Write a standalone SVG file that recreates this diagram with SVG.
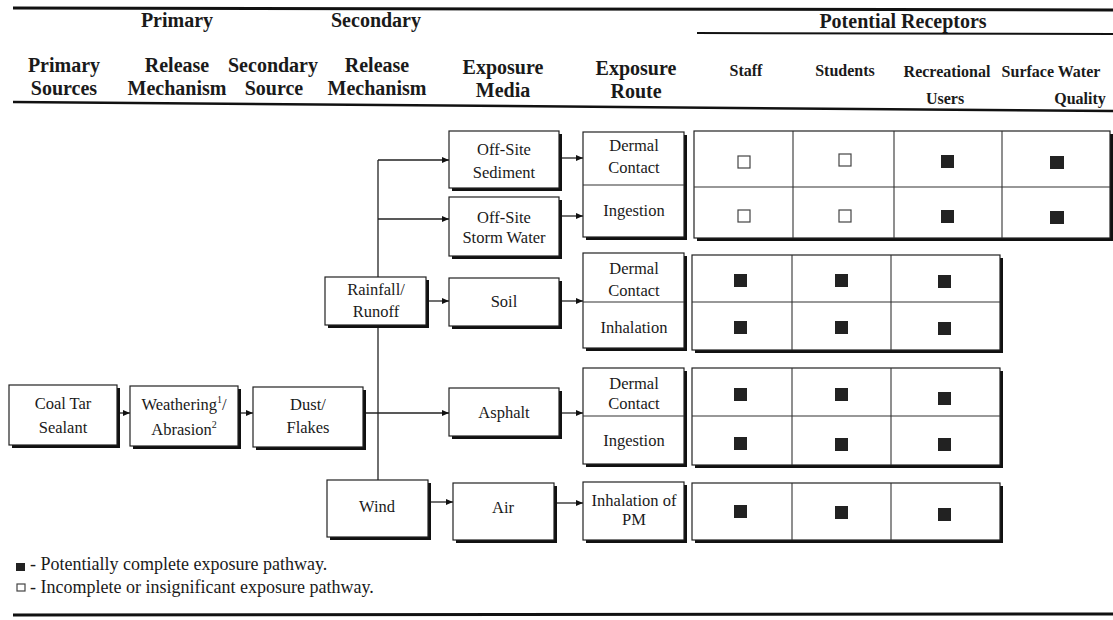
<svg xmlns="http://www.w3.org/2000/svg" width="1113" height="620" viewBox="0 0 1113 620">
<style>
text{font-family:"Liberation Serif","Times New Roman",serif;fill:#1a1a1a;text-anchor:middle}
.h{font-size:20px;font-weight:bold}
.hr{font-size:16px;font-weight:bold}
.t{font-size:16.5px}
.lg{font-size:18px;text-anchor:start}
.box{fill:#fff;stroke:#222;stroke-width:1.2}
.sh{fill:#111}
.rule{stroke:#111;fill:none}
.c{stroke:#222;stroke-width:1.3;fill:none}
.ln{stroke:#333;stroke-width:1.1;fill:none}
.f{fill:#222}
.o{fill:#fff;stroke:#444;stroke-width:1.2}
</style>
<defs>
<marker id="ar" markerWidth="8" markerHeight="6" refX="7" refY="3" orient="auto" markerUnits="userSpaceOnUse">
<path d="M0,0 L7,3 L0,6 Z" fill="#111"/>
</marker>
</defs>
<rect width="1113" height="620" fill="#fff"/>

<g id="header">
<line class="rule" x1="13" y1="8" x2="1113" y2="10" stroke-width="3"/>
<text class="h" x="177" y="27">Primary</text>
<text class="h" x="376" y="27">Secondary</text>
<text class="h" x="903" y="28">Potential Receptors</text>
<line class="rule" x1="697" y1="33" x2="1113" y2="34" stroke-width="2"/>
<text class="h" x="64" y="72">Primary</text>
<text class="h" x="64" y="95">Sources</text>
<text class="h" x="177" y="72">Release</text>
<text class="h" x="177" y="95">Mechanism</text>
<text class="h" x="273" y="72">Secondary</text>
<text class="h" x="274" y="95">Source</text>
<text class="h" x="377" y="72">Release</text>
<text class="h" x="377" y="95">Mechanism</text>
<text class="h" x="503" y="74">Exposure</text>
<text class="h" x="503" y="97">Media</text>
<text class="h" x="636" y="75">Exposure</text>
<text class="h" x="636" y="98">Route</text>
<text class="hr" x="746" y="76">Staff</text>
<text class="hr" x="845" y="76">Students</text>
<text class="hr" x="947" y="77">Recreational</text>
<text class="hr" x="945" y="104">Users</text>
<text class="hr" x="1051" y="77">Surface Water</text>
<text class="hr" x="1080" y="104">Quality</text>
<line class="rule" x1="13" y1="102" x2="1113" y2="111" stroke-width="2.5"/>
</g>

<g id="connectors">
<line class="c" x1="120" y1="413" x2="130" y2="413" marker-end="url(#ar)"/>
<line class="c" x1="241" y1="413" x2="253" y2="413" marker-end="url(#ar)"/>
<line class="c" x1="366" y1="413" x2="449" y2="413" marker-end="url(#ar)"/>
<line class="c" x1="378" y1="160" x2="378" y2="277"/>
<line class="c" x1="378" y1="328" x2="378" y2="480"/>
<line class="c" x1="378" y1="160" x2="449" y2="160" marker-end="url(#ar)"/>
<line class="c" x1="378" y1="219" x2="449" y2="219" marker-end="url(#ar)"/>
<line class="c" x1="429" y1="301" x2="449" y2="301" marker-end="url(#ar)"/>
<line class="c" x1="431" y1="502" x2="453" y2="502" marker-end="url(#ar)"/>
<line class="c" x1="562" y1="158" x2="583" y2="158" marker-end="url(#ar)"/>
<line class="c" x1="562" y1="216" x2="583" y2="216" marker-end="url(#ar)"/>
<line class="c" x1="562" y1="301" x2="583" y2="301" marker-end="url(#ar)"/>
<line class="c" x1="562" y1="413" x2="583" y2="413" marker-end="url(#ar)"/>
<line class="c" x1="557" y1="503" x2="583" y2="503" marker-end="url(#ar)"/>
</g>

<g id="coal-tar-sealant">
<rect class="sh" x="12" y="388" width="108" height="60"/>
<rect class="box" x="9" y="385" width="108" height="60"/>
<text class="t" x="63" y="409">Coal Tar</text>
<text class="t" x="63" y="433">Sealant</text>
</g>
<g id="weathering-abrasion">
<rect class="sh" x="133" y="389" width="108" height="60"/>
<rect class="box" x="130" y="386" width="108" height="60"/>
<text class="t" x="184" y="410">Weathering<tspan font-size="10" dy="-7">1</tspan><tspan dy="7">/</tspan></text>
<text class="t" x="184" y="435">Abrasion<tspan font-size="10" dy="-7">2</tspan></text>
</g>
<g id="dust-flakes">
<rect class="sh" x="256" y="390" width="110" height="60"/>
<rect class="box" x="253" y="387" width="110" height="60"/>
<text class="t" x="308" y="410">Dust/</text>
<text class="t" x="308" y="433">Flakes</text>
</g>
<g id="rainfall-runoff">
<rect class="sh" x="328" y="280" width="101" height="48"/>
<rect class="box" x="325" y="277" width="101" height="48"/>
<text class="t" x="376" y="295">Rainfall/</text>
<text class="t" x="376" y="317">Runoff</text>
</g>
<g id="wind">
<rect class="sh" x="330" y="483" width="101" height="57"/>
<rect class="box" x="327" y="480" width="101" height="57"/>
<text class="t" x="377" y="512">Wind</text>
</g>
<g id="off-site-sediment">
<rect class="sh" x="452" y="134" width="110" height="57"/>
<rect class="box" x="449" y="131" width="110" height="57"/>
<text class="t" x="504" y="155">Off-Site</text>
<text class="t" x="504" y="178">Sediment</text>
</g>
<g id="off-site-storm-water">
<rect class="sh" x="452" y="200" width="110" height="59"/>
<rect class="box" x="449" y="197" width="110" height="59"/>
<text class="t" x="504" y="223">Off-Site</text>
<text class="t" x="504" y="243">Storm Water</text>
</g>
<g id="soil">
<rect class="sh" x="452" y="281" width="110" height="48"/>
<rect class="box" x="449" y="278" width="110" height="48"/>
<text class="t" x="504" y="307">Soil</text>
</g>
<g id="asphalt">
<rect class="sh" x="452" y="391" width="110" height="48"/>
<rect class="box" x="449" y="388" width="110" height="48"/>
<text class="t" x="504" y="418">Asphalt</text>
</g>
<g id="air">
<rect class="sh" x="456" y="486" width="101" height="57"/>
<rect class="box" x="453" y="483" width="101" height="57"/>
<text class="t" x="503" y="513">Air</text>
</g>

<g id="route-sediment-stormwater">
<rect class="sh" x="586" y="135" width="101" height="105"/>
<rect class="box" x="583" y="132" width="101" height="105"/>
<line class="ln" x1="583" y1="185" x2="684" y2="185"/>
<text class="t" x="634" y="151">Dermal</text>
<text class="t" x="634" y="173">Contact</text>
<text class="t" x="634" y="216">Ingestion</text>
</g>
<g id="route-soil">
<rect class="sh" x="586" y="256" width="101" height="95"/>
<rect class="box" x="583" y="253" width="101" height="95"/>
<line class="ln" x1="583" y1="302" x2="684" y2="302"/>
<text class="t" x="634" y="274">Dermal</text>
<text class="t" x="634" y="296">Contact</text>
<text class="t" x="634" y="333">Inhalation</text>
</g>
<g id="route-asphalt">
<rect class="sh" x="586" y="371" width="101" height="96"/>
<rect class="box" x="583" y="368" width="101" height="96"/>
<line class="ln" x1="583" y1="416" x2="684" y2="416"/>
<text class="t" x="634" y="389">Dermal</text>
<text class="t" x="634" y="409">Contact</text>
<text class="t" x="634" y="446">Ingestion</text>
</g>
<g id="route-air">
<rect class="sh" x="586" y="485" width="101" height="58"/>
<rect class="box" x="583" y="482" width="101" height="58"/>
<text class="t" x="634" y="506">Inhalation of</text>
<text class="t" x="634" y="525">PM</text>
</g>

<g id="receptors-sediment-stormwater">
<rect class="sh" x="697" y="134" width="416" height="107"/>
<rect class="box" x="694" y="131" width="416" height="107"/>
<line class="ln" x1="694" y1="187" x2="1110" y2="187"/>
<line class="ln" x1="793" y1="131" x2="793" y2="238"/>
<line class="ln" x1="894" y1="131" x2="894" y2="238"/>
<line class="ln" x1="1002" y1="131" x2="1002" y2="238"/>
<rect class="o" x="738" y="156" width="12" height="12"/>
<rect class="o" x="839" y="154" width="12" height="12"/>
<rect class="f" x="941" y="155" width="13" height="13"/>
<rect class="f" x="1050" y="156" width="14" height="13"/>
<rect class="o" x="738" y="210" width="12" height="12"/>
<rect class="o" x="839" y="210" width="12" height="12"/>
<rect class="f" x="941" y="210" width="13" height="13"/>
<rect class="f" x="1050" y="211" width="14" height="13"/>
</g>
<g id="receptors-soil">
<rect class="sh" x="695" y="258" width="308" height="95"/>
<rect class="box" x="692" y="255" width="308" height="95"/>
<line class="ln" x1="692" y1="302" x2="1000" y2="302"/>
<line class="ln" x1="792" y1="255" x2="792" y2="350"/>
<line class="ln" x1="891" y1="255" x2="891" y2="350"/>
<rect class="f" x="734" y="274" width="13" height="13"/>
<rect class="f" x="835" y="274" width="13" height="13"/>
<rect class="f" x="938" y="275" width="13" height="13"/>
<rect class="f" x="734" y="321" width="13" height="13"/>
<rect class="f" x="835" y="321" width="13" height="13"/>
<rect class="f" x="938" y="322" width="13" height="13"/>
</g>
<g id="receptors-asphalt">
<rect class="sh" x="695" y="371" width="308" height="97"/>
<rect class="box" x="692" y="368" width="308" height="97"/>
<line class="ln" x1="692" y1="416" x2="1000" y2="416"/>
<line class="ln" x1="792" y1="368" x2="792" y2="465"/>
<line class="ln" x1="891" y1="368" x2="891" y2="465"/>
<rect class="f" x="734" y="388" width="13" height="13"/>
<rect class="f" x="835" y="388" width="13" height="13"/>
<rect class="f" x="938" y="392" width="13" height="13"/>
<rect class="f" x="734" y="437" width="13" height="13"/>
<rect class="f" x="835" y="438" width="13" height="13"/>
<rect class="f" x="938" y="438" width="13" height="13"/>
</g>
<g id="receptors-air">
<rect class="sh" x="695" y="486" width="308" height="57"/>
<rect class="box" x="692" y="483" width="308" height="57"/>
<line class="ln" x1="792" y1="483" x2="792" y2="540"/>
<line class="ln" x1="891" y1="483" x2="891" y2="540"/>
<rect class="f" x="734" y="505" width="13" height="13"/>
<rect class="f" x="835" y="506" width="13" height="13"/>
<rect class="f" x="938" y="508" width="13" height="13"/>
</g>

<g id="legend">
<rect class="f" x="16" y="563" width="9" height="8"/>
<text class="lg" x="30" y="570">- Potentially complete exposure pathway.</text>
<rect class="o" x="17" y="584" width="8" height="7"/>
<text class="lg" x="30" y="593">- Incomplete or insignificant exposure pathway.</text>
<line class="rule" x1="13" y1="615" x2="1113" y2="614" stroke-width="3"/>
</g>
</svg>
